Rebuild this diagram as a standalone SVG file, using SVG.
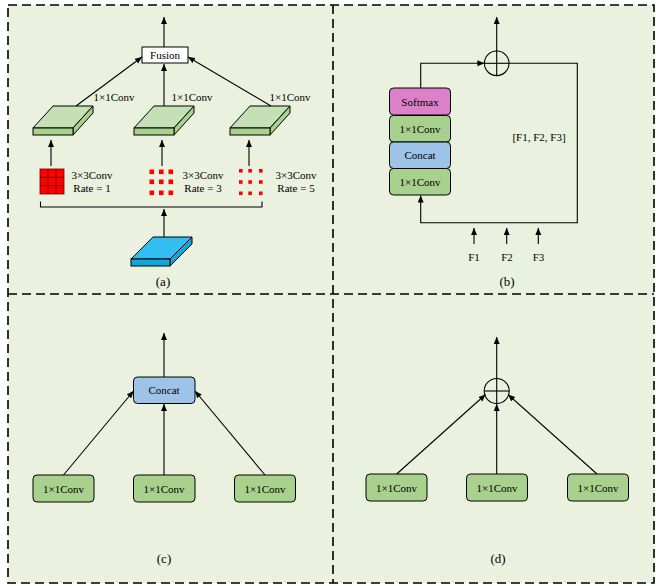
<svg xmlns="http://www.w3.org/2000/svg" width="656" height="586" viewBox="0 0 656 586">
<style>
text{font-family:"Liberation Serif","Times New Roman",serif;fill:#000;}
.t{font-size:11px;text-anchor:middle;}
.lbl{font-size:13px;text-anchor:middle;}
.ln{stroke:#000;stroke-width:1.1;fill:none;}
.arr{stroke:#000;stroke-width:1.1;fill:none;marker-end:url(#ah);}
.dash{stroke:#000;stroke-width:1.6;fill:none;stroke-dasharray:9 5;}
.g{fill:#a9d18e;stroke:#000;stroke-width:1;}
.b{fill:#9dc3e6;stroke:#000;stroke-width:1;}
.p{fill:#dc80c9;stroke:#000;stroke-width:1;}
.slabTop{fill:#c5e0b4;stroke:#000;stroke-width:1;}
.slabFront{fill:#a9d18e;stroke:#000;stroke-width:1;}
.red{fill:#ff0000;}
</style>
<defs>
<marker id="ah" markerUnits="userSpaceOnUse" markerWidth="8" markerHeight="7" refX="7" refY="3" orient="auto">
<path d="M0,0 L7,3 L0,6 z" fill="#000"/>
</marker>
</defs>
<rect x="8" y="5" width="646" height="578" fill="#ebf1df"/>
<g id="borders">
<rect x="8" y="5" width="646" height="578" class="dash"/>
<line x1="333" y1="5" x2="333" y2="583" class="dash"/>
<line x1="8" y1="294" x2="654" y2="294" class="dash"/>
</g>

<!-- Panel (a) -->
<g id="a-fusion">
<rect x="142" y="47" width="46" height="16" fill="#fff" stroke="#000" stroke-width="1"/>
<text x="165" y="59" class="t">Fusion</text>
</g>
<g id="a-slab1">
<polygon points="33,128 53,106 93,106 73,128" class="slabTop"/>
<polygon points="73,128 93,106 93,113 73,135" class="slabFront"/>
<rect x="33" y="128" width="40" height="7" class="slabFront"/>
</g>
<g id="a-slab2">
<polygon points="134,128 154,106 194,106 174,128" class="slabTop"/>
<polygon points="174,128 194,106 194,113 174,135" class="slabFront"/>
<rect x="134" y="128" width="40" height="7" class="slabFront"/>
</g>
<g id="a-slab3">
<polygon points="230,128 250,106 290,106 270,128" class="slabTop"/>
<polygon points="270,128 290,106 290,113 270,135" class="slabFront"/>
<rect x="230" y="128" width="40" height="7" class="slabFront"/>
</g>
<g id="a-input">
<polygon points="131,259 153,237 192,237 170,259" fill="#33bdf0" stroke="#000" stroke-width="1"/>
<polygon points="170,259 192,237 192,244 170,266" fill="#10a6dc" stroke="#000" stroke-width="1"/>
<rect x="131" y="259" width="39" height="7" fill="#10a6dc" stroke="#000" stroke-width="1"/>
</g>
<g id="a-kernel1">
<rect x="40" y="169" width="24" height="25" class="red"/>
<g stroke="#600" stroke-width="0.8">
<line x1="48" y1="169" x2="48" y2="194"/><line x1="56" y1="169" x2="56" y2="194"/>
<line x1="40" y1="177.3" x2="64" y2="177.3"/><line x1="40" y1="185.6" x2="64" y2="185.6"/>
</g>
<rect x="40" y="169" width="24" height="25" fill="none" stroke="#600" stroke-width="0.8"/>
<text x="92" y="179" class="t">3×3Conv</text>
<text x="92" y="192" class="t">Rate = 1</text>
</g>
<g id="a-kernel2">
<g class="red">
<rect x="149.5" y="169.5" width="4.6" height="4.6"/><rect x="159" y="169.5" width="4.6" height="4.6"/><rect x="168.5" y="169.5" width="4.6" height="4.6"/>
<rect x="149.5" y="179.5" width="4.6" height="4.6"/><rect x="159" y="179.5" width="4.6" height="4.6"/><rect x="168.5" y="179.5" width="4.6" height="4.6"/>
<rect x="149.5" y="190.5" width="4.6" height="4.6"/><rect x="159" y="190.5" width="4.6" height="4.6"/><rect x="168.5" y="190.5" width="4.6" height="4.6"/>
</g>
<text x="203" y="179" class="t">3×3Conv</text>
<text x="203" y="192" class="t">Rate = 3</text>
</g>
<g id="a-kernel3">
<g class="red">
<rect x="239" y="169" width="3.6" height="3.6"/><rect x="248.3" y="169" width="3.6" height="3.6"/><rect x="259" y="169" width="3.6" height="3.6"/>
<rect x="239" y="180.2" width="3.6" height="3.6"/><rect x="248.3" y="180.2" width="3.6" height="3.6"/><rect x="259" y="180.2" width="3.6" height="3.6"/>
<rect x="239" y="191.5" width="3.6" height="3.6"/><rect x="248.3" y="191.5" width="3.6" height="3.6"/><rect x="259" y="191.5" width="3.6" height="3.6"/>
</g>
<text x="296" y="179" class="t">3×3Conv</text>
<text x="296" y="192" class="t">Rate = 5</text>
</g>
<g id="a-labels">
<text x="114" y="101" class="t">1×1Conv</text>
<text x="192" y="101" class="t">1×1Conv</text>
<text x="290" y="101" class="t">1×1Conv</text>
<text x="163" y="286" class="lbl">(a)</text>
</g>

<!-- Panel (b) -->
<g id="b-softmax"><rect x="389.5" y="88" width="61" height="27" rx="4" class="p"/><text x="420" y="105.5" class="t">Softmax</text></g>
<g id="b-conv2"><rect x="389.5" y="115.5" width="61" height="26.5" rx="4" class="g"/><text x="420" y="132.5" class="t">1×1Conv</text></g>
<g id="b-concat"><rect x="389.5" y="142" width="61" height="26.5" rx="4" class="b"/><text x="420" y="159" class="t">Concat</text></g>
<g id="b-conv1"><rect x="389.5" y="168.5" width="61" height="26.5" rx="4" class="g"/><text x="420" y="185.5" class="t">1×1Conv</text></g>
<g id="b-sum">
<circle cx="496.7" cy="63.3" r="12.3" fill="none" stroke="#000" stroke-width="1.1"/>
<line x1="484.4" y1="63.3" x2="509" y2="63.3" class="ln"/>
<line x1="496.7" y1="51" x2="496.7" y2="75.6" class="ln"/>
</g>
<g id="b-labels">
<text x="539" y="141" class="t">[F1, F2, F3]</text>
<text x="474" y="261" class="t">F1</text>
<text x="507" y="261" class="t">F2</text>
<text x="538.5" y="261" class="t">F3</text>
<text x="507" y="286" class="lbl">(b)</text>
</g>

<!-- Panel (c) -->
<g id="c-concat"><rect x="133.5" y="377" width="61.5" height="26.5" rx="4" class="b"/><text x="164" y="394" class="t">Concat</text></g>
<g id="c-conv1"><rect x="33" y="475" width="61" height="27" rx="4" class="g"/><text x="63.5" y="492.5" class="t">1×1Conv</text></g>
<g id="c-conv2"><rect x="133.5" y="475" width="61.5" height="27" rx="4" class="g"/><text x="164" y="492.5" class="t">1×1Conv</text></g>
<g id="c-conv3"><rect x="234.5" y="475" width="61" height="27" rx="4" class="g"/><text x="265" y="492.5" class="t">1×1Conv</text></g>
<text x="164" y="563" class="lbl">(c)</text>

<!-- Panel (d) -->
<g id="d-sum">
<circle cx="496.7" cy="391" r="12.5" fill="none" stroke="#000" stroke-width="1.1"/>
<line x1="484.2" y1="391" x2="509.2" y2="391" class="ln"/>
<line x1="496.7" y1="378.5" x2="496.7" y2="403.5" class="ln"/>
</g>
<g id="d-conv1"><rect x="366" y="474" width="61" height="27" rx="4" class="g"/><text x="396.5" y="491.5" class="t">1×1Conv</text></g>
<g id="d-conv2"><rect x="466.5" y="474" width="61" height="27" rx="4" class="g"/><text x="497" y="491.5" class="t">1×1Conv</text></g>
<g id="d-conv3"><rect x="567.5" y="474" width="61" height="27" rx="4" class="g"/><text x="598" y="491.5" class="t">1×1Conv</text></g>
<text x="498" y="563" class="lbl">(d)</text>

<g id="connectors">
<!-- a -->
<line x1="164" y1="47" x2="164" y2="17" class="arr"/>
<line x1="76" y1="106" x2="142" y2="57" class="arr"/>
<line x1="164" y1="106" x2="164" y2="64" class="arr"/>
<line x1="271" y1="106" x2="188" y2="57" class="arr"/>
<line x1="51" y1="166" x2="51" y2="140" class="arr"/>
<line x1="162" y1="166" x2="162" y2="140" class="arr"/>
<line x1="249" y1="166" x2="249" y2="140" class="arr"/>
<path d="M40.5,201.5 V207 H262 V201.5" class="ln"/>
<line x1="164" y1="237" x2="164" y2="209" class="arr"/>
<!-- b -->
<line x1="496.7" y1="51" x2="496.7" y2="17" class="arr"/>
<path d="M420.7,88 V63.3 H484.4" class="arr"/>
<path d="M509,63.3 H577.3 V222.7 H420.7 V195.5" class="arr"/>
<line x1="474" y1="244" x2="474" y2="228" class="arr"/>
<line x1="506.7" y1="244" x2="506.7" y2="228" class="arr"/>
<line x1="538.3" y1="244" x2="538.3" y2="228" class="arr"/>
<!-- c -->
<line x1="164" y1="377" x2="164" y2="333" class="arr"/>
<line x1="63.5" y1="475" x2="133.5" y2="391" class="arr"/>
<line x1="164" y1="475" x2="164" y2="404" class="arr"/>
<line x1="265" y1="475" x2="195" y2="391" class="arr"/>
<!-- d -->
<line x1="496.7" y1="378.5" x2="496.7" y2="337" class="arr"/>
<line x1="396.7" y1="474" x2="485.5" y2="394.5" class="arr"/>
<line x1="496.7" y1="474" x2="496.7" y2="404" class="arr"/>
<line x1="597" y1="474" x2="508" y2="394.5" class="arr"/>
</g>
</svg>
